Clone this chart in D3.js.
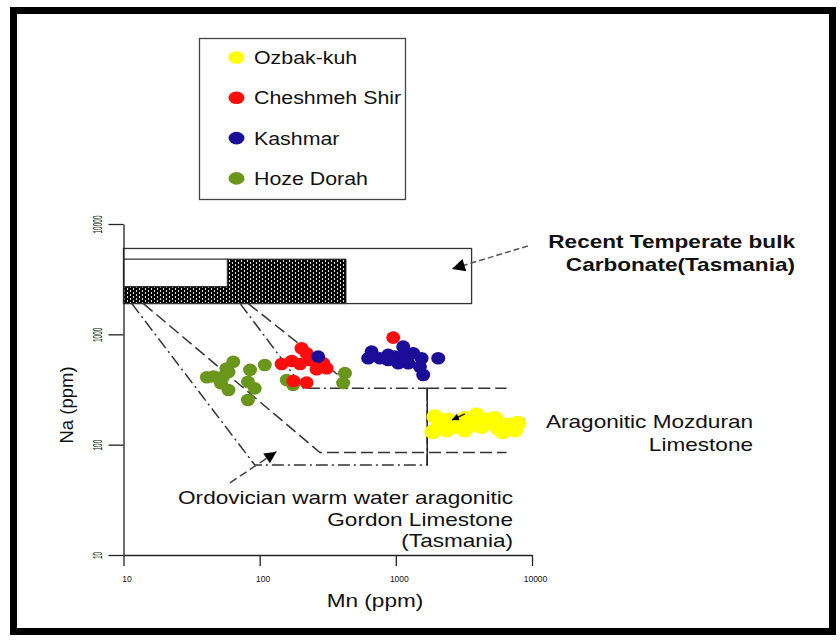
<!DOCTYPE html>
<html>
<head>
<meta charset="utf-8">
<script src="https://cdn.jsdelivr.net/npm/d3@7"></script>
<style>
  body { margin: 0; background: #fff; }
  svg { display: block; font-family: Arial, "Liberation Sans", sans-serif; }
</style>
</head>
<body>
<svg id="chart" width="840" height="641"></svg>
<script>
// ---- data: [Mn ppm, Na ppm] ----
const ozbakKuh = [[1937, 179], [2108, 151], [2360, 136], [2413, 167], [3215, 173], [3500, 151],
    [3920, 186], [4265, 146], [4643, 167], [5343, 173], [5649, 141], [6109, 131], [6683, 151],
    [7486, 136], [7880, 156], [3215, 136], [2716, 146], [1872, 131]];
const cheshmehShir = [[203, 748], [221, 674], [234, 586], [145, 539], [172, 574], [198, 539],
    [262, 483], [293, 547], [310, 493], [177, 378], [221, 365], [957, 934]];
const kashmar = [[269, 628], [1133, 773], [664, 697], [627, 607], [764, 607], [879, 651], [985, 628],
    [1167, 628], [1342, 674], [1233, 547], [1546, 607], [2048, 607], [1503, 509], [1042, 547],
    [1589, 428], [879, 586]];
const hozeDorah = [[64, 565], [57, 490], [59, 455], [46, 415], [54, 415], [52, 360], [59, 313],
    [85, 476], [109, 528], [82, 372], [92, 324], [82, 254], [158, 386], [176, 348], [423, 445],
    [410, 362], [41, 408]];

const seriesNames = ["Ozbak-kuh", "Cheshmeh Shir", "Kashmar", "Hoze Dorah"];
const seriesColors = ["#ffff00", "#ff0a0a", "#1f0f98", "#6a961f"];

// Recent temperate bulk carbonate field (outer box)
const recentMn = [10, 3600];
const recentNa = [1900, 6000];
// Ordovician field (hatched) and its open inner box
const hatchPoly = [[10, 1900], [430, 1900], [430, 4800], [58, 4800], [58, 2700], [10, 2700]];
const innerBox = [[10, 2700], [58, 2700], [58, 4800], [10, 4800]];

// tie lines from the fields down to the Mozduran box
const fieldA = [[11.5, 1900], [92, 65.5], [1700, 65.5], [1700, 325]];   // dash-dot
const fieldB = [[14, 1900], [277, 85], [6500, 85]];                     // dashed
const fieldC = [[72, 1900], [210, 325], [1700, 325]];                   // dash-dot
const fieldD = [[82.5, 1900], [450, 360]];                              // dashed
const fieldE = [[1700, 325], [6500, 325]];                              // dashed

// annotation leaders [from, to]
const recentLeader = [[9330, 6326], [2582, 3917]];
const gordonLeader = [[60.5, 45], [133, 86.4]];
const mozduranLeader = [[8870, 171], [2582, 167.5]];
const mozduranArrow = [[3216, 190], [2582, 167.5]];

const recentLabel = ["Recent Temperate bulk", "Carbonate(Tasmania)"];
const mozduranLabel = ["Aragonitic Mozduran", "Limestone"];
const gordonLabel = ["Ordovician warm water aragonitic", "Gordon Limestone", "(Tasmania)"];

const tickLabels = [10, 100, 1000, 10000];
const xTitle = "Mn (ppm)";
const yTitle = "Na (ppm)";

// ---- setup ----
const svg = d3.select('#chart');
const STRETCH = 1.22;   // the source figure is drawn a little wide

let x = d3.scaleLog().domain([10, 10000]).range([123.5, 532]);
let y = d3.scaleLog().domain([10, 10000]).range([555, 224]);

function stretch(sel, k) {
    sel.each(function () {
        let w = this.getComputedTextLength();
        d3.select(this).attr('textLength', w * k).attr('lengthAdjust', 'spacingAndGlyphs');
    });
}

let defs = svg.append('defs');

// hatch: black with white speckles
let pat = defs.append('pattern')
    .attr('id', 'dots')
    .attr('patternUnits', 'userSpaceOnUse')
    .attr('width', 6).attr('height', 4);
pat.append('rect').attr('width', 6).attr('height', 4).attr('fill', '#000');
pat.append('ellipse').attr('cx', 1.5).attr('cy', 1).attr('rx', 0.65).attr('ry', 0.9).attr('fill', '#fff');
pat.append('ellipse').attr('cx', 4.5).attr('cy', 3).attr('rx', 0.65).attr('ry', 0.9).attr('fill', '#fff');

defs.append('filter').attr('id', 'soft')
    .append('feGaussianBlur').attr('stdDeviation', 0.6);

[['arrowBig', 20, 13], ['arrowMid', 17, 12], ['arrowSmall', 9, 7]].forEach(([id, w, h]) => {
    defs.append('marker')
        .attr('id', id)
        .attr('viewBox', '0 0 10 10')
        .attr('refX', 10).attr('refY', 5)
        .attr('markerUnits', 'userSpaceOnUse')
        .attr('markerWidth', w).attr('markerHeight', h)
        .attr('orient', 'auto')
        .append('path').attr('d', 'M0,0 L10,5 L0,10 z').attr('fill', '#000');
});

// outer frame
svg.append('rect')
    .attr('x', 13.5).attr('y', 10.5)
    .attr('width', 819).attr('height', 621)
    .attr('fill', 'none').attr('stroke', '#000').attr('stroke-width', 7);

// ---- legend ----
let legend = svg.append('g');
legend.append('rect')
    .attr('x', 199.5).attr('y', 38.5)
    .attr('width', 206).attr('height', 161)
    .attr('fill', 'none').attr('stroke', '#444').attr('stroke-width', 1.3);

let items = legend.selectAll('g.item')
    .data(seriesNames).enter()
    .append('g')
    .attr('transform', (d, i) => `translate(0,${57.5 + i * 40.3})`);
items.append('ellipse')
    .attr('cx', 236.5).attr('rx', 8).attr('ry', 6.3)
    .attr('fill', (d, i) => seriesColors[i])
    .attr('filter', 'url(#soft)');
items.append('text')
    .attr('x', 254).attr('y', 6.5)
    .style('font-size', '17.5px')
    .attr('fill', '#111')
    .text(d => d)
    .call(stretch, STRETCH);

// ---- fields ----
let line = d3.line().x(d => x(d[0])).y(d => y(d[1]));

svg.append('path')
    .attr('d', line(hatchPoly) + 'Z')
    .attr('fill', 'url(#dots)').attr('stroke', '#111').attr('stroke-width', 1);
svg.append('path')
    .attr('d', line(innerBox))
    .attr('fill', 'none').attr('stroke', '#333').attr('stroke-width', 1.2);
svg.append('rect')
    .attr('x', x(recentMn[0])).attr('y', y(recentNa[1]))
    .attr('width', x(recentMn[1]) - x(recentMn[0]))
    .attr('height', y(recentNa[0]) - y(recentNa[1]))
    .attr('fill', 'none').attr('stroke', '#333').attr('stroke-width', 1.3);

const dashDot = '12,4,2,4';
const dashed = '12,5';
[[fieldA, dashDot], [fieldB, dashed], [fieldC, dashDot], [fieldD, dashed], [fieldE, dashed]]
    .forEach(([pts, dash]) => {
        svg.append('path')
            .attr('d', line(pts))
            .attr('fill', 'none')
            .attr('stroke', '#333')
            .attr('stroke-width', 1.5)
            .attr('stroke-dasharray', dash);
    });
// solid part of the Mozduran box edge
svg.append('path')
    .attr('d', line([fieldA[2], fieldA[3]]))
    .attr('stroke', '#222').attr('stroke-width', 1.5);

// ---- axes ----
let minor = x.ticks().filter(t => tickLabels.indexOf(t) < 0);

let xAxis = svg.append('g').attr('transform', `translate(0,${y(10)})`);
xAxis.call(d3.axisBottom(x).tickValues(minor).tickSize(7).tickSizeOuter(0).tickFormat(''));
xAxis.call(d3.axisBottom(x).tickValues(tickLabels).tickSize(11).tickSizeOuter(0).tickFormat(d3.format('d')));
xAxis.selectAll('text')
    .attr('y', 26.7).attr('dy', 0).attr('dx', 3)
    .style('font-size', '8.5px').attr('fill', '#111');

let yAxis = svg.append('g').attr('transform', `translate(${x(10)},0)`);
yAxis.call(d3.axisLeft(y).tickValues(minor).tickSize(9).tickSizeOuter(0).tickFormat(''));
yAxis.call(d3.axisLeft(y).tickValues(tickLabels).tickSize(15).tickSizeOuter(0).tickFormat(d3.format('d')));
yAxis.selectAll('text')
    .attr('x', 0).attr('dy', 0)
    .attr('transform', 'translate(-22,0) rotate(-90)')
    .attr('text-anchor', 'middle')
    .style('font-size', '12px').attr('fill', '#111')
    .each(function (d) {
        d3.select(this).attr('textLength', String(d).length * 3.6).attr('lengthAdjust', 'spacingAndGlyphs');
    });

svg.selectAll('.domain, .tick line').attr('stroke', '#222').attr('stroke-width', 1.3);

svg.append('text')
    .attr('x', 375).attr('y', 607)
    .attr('text-anchor', 'middle')
    .style('font-size', '18.5px').attr('fill', '#111')
    .text(xTitle)
    .call(stretch, STRETCH);
svg.append('text')
    .attr('transform', 'translate(73,405) rotate(-90)')
    .attr('text-anchor', 'middle')
    .style('font-size', '18.5px').attr('fill', '#111')
    .text(yTitle);

// ---- leaders under the points ----
svg.append('path').attr('d', line(recentLeader))
    .attr('stroke', '#555').attr('stroke-width', 1.5).attr('stroke-dasharray', '6,3')
    .attr('marker-end', 'url(#arrowBig)');
svg.append('path').attr('d', line(gordonLeader))
    .attr('stroke', '#444').attr('stroke-width', 1.5).attr('stroke-dasharray', '8,4')
    .attr('marker-end', 'url(#arrowMid)');
svg.append('path').attr('d', line(mozduranLeader))
    .attr('stroke', '#444').attr('stroke-width', 1.5).attr('stroke-dasharray', '8,4');

// ---- points ----
let pts = svg.append('g').attr('filter', 'url(#soft)');
[[hozeDorah, 3, 7, 6.3], [cheshmehShir, 1, 7, 6.3], [kashmar, 2, 7, 6.3], [ozbakKuh, 0, 8.5, 7.5]]
    .forEach(([data, ci, rx, ry]) => {
        pts.selectAll(null)
            .data(data).enter()
            .append('ellipse')
            .attr('cx', d => x(d[0]))
            .attr('cy', d => y(d[1]))
            .attr('rx', rx).attr('ry', ry)
            .attr('fill', seriesColors[ci]);
    });

svg.append('path').attr('d', line(mozduranArrow))
    .attr('stroke', '#222').attr('stroke-width', 1.5)
    .attr('marker-end', 'url(#arrowSmall)');

// ---- annotation text ----
function addLabel(lines, xRight, baselines, bold, size) {
    lines.forEach((t, i) => {
        svg.append('text')
            .attr('x', xRight).attr('y', baselines[i])
            .attr('text-anchor', 'end')
            .style('font-size', size + 'px')
            .style('font-weight', bold ? 'bold' : 'normal')
            .attr('fill', '#111')
            .text(t)
            .call(stretch, STRETCH);
    });
}
addLabel(recentLabel, 795, [248, 271], true, 18.5);
addLabel(mozduranLabel, 753, [428, 451], false, 18.5);
addLabel(gordonLabel, 513, [504, 525.5, 547], false, 18.5);
</script>
</body>
</html>
